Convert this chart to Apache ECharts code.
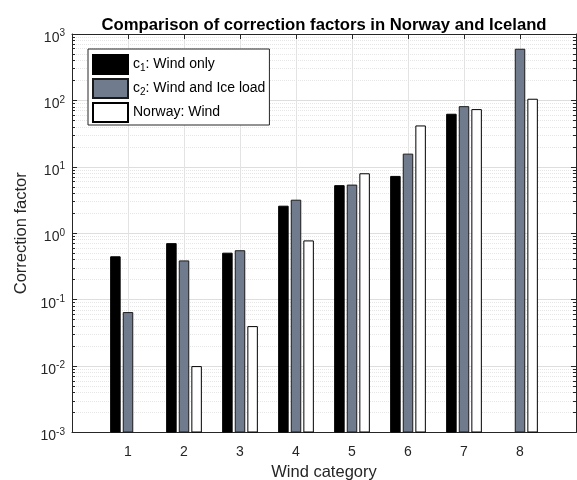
<!DOCTYPE html>
<html>
<head>
<meta charset="utf-8">
<script src="https://cdn.jsdelivr.net/npm/echarts@6/dist/echarts.min.js"></script>
<style>
  html, body { margin: 0; padding: 0; background: #fff; }
  #chart { width: 577px; height: 480px; }
</style>
</head>
<body>
<div id="chart"></div>
<script>
// Wind categories 1..8
const categories = ['1', '2', '3', '4', '5', '6', '7', '8'];
// c1: wind only
const windOnly = [0.45, 0.71, 0.51, 2.6, 5.3, 7.3, 63, null];
// c2: wind and ice load
const windIce = [0.065, 0.39, 0.555, 3.2, 5.4, 15.8, 82, 600];
// Norway: wind
const norwayWind = [null, 0.01, 0.04, 0.78, 8, 42, 74, 106];
// Decade tick values on the log axis
const yTicks = [0.001, 0.01, 0.1, 1, 10, 100, 1000];

const seriesNames = ['c1: Wind only', 'c2: Wind and Ice load', 'Norway: Wind'];

// The x axis runs 0..9 with the wind categories at 1..8
const xCats = ['0'].concat(categories, ['9']);
const pad = arr => [null].concat(arr, [null]);

const FONT = 'Liberation Sans, Arial, sans-serif';
const FRAME = '#262626';

function expLabel(v) {
  const e = Math.round(Math.log10(v));
  return '{b|10}{e|' + e + '}';
}

function legendLabel(name) {
  if (name.indexOf('c1') === 0) return '{t|c}{s|1}{t|: Wind only}';
  if (name.indexOf('c2') === 0) return '{t|c}{s|2}{t|: Wind and Ice load}';
  return '{t|' + name + '}';
}

const chart = echarts.init(document.getElementById('chart'), null, { renderer: 'canvas' });

const barBase = {
  type: 'bar',
  barWidth: 10.5,
  barGap: '20%',
  xAxisIndex: 0,
  yAxisIndex: 0
};

const innerTicks = { show: true, inside: true, length: 5, lineStyle: { color: FRAME } };

chart.setOption({
  animation: false,
  backgroundColor: '#fff',
  title: {
    text: 'Comparison of correction factors in Norway and Iceland',
    left: 319,
    top: 12,
    textAlign: 'center',
    textStyle: { fontFamily: FONT, fontSize: 16.7, fontWeight: 'bold', color: '#000' }
  },
  grid: { left: 72, right: 1, top: 34, bottom: 47.5, containLabel: false, outerBoundsMode: 'none' },
  legend: {
    orient: 'vertical',
    left: 88,
    top: 49,
    padding: [5, 4, 2, 4],
    itemWidth: 35,
    itemHeight: 19,
    itemGap: 3,
    backgroundColor: '#fff',
    borderColor: FRAME,
    borderWidth: 1,
    borderRadius: 0,
    icon: 'rect',
    data: seriesNames,
    formatter: legendLabel,
    textStyle: {
      fontFamily: FONT,
      fontSize: 14,
      color: '#000',
      rich: {
        t: { fontFamily: FONT, fontSize: 14, color: '#000', lineHeight: 19 },
        s: { fontFamily: FONT, fontSize: 10, color: '#000', padding: [7, 0, 0, 0] }
      }
    }
  },
  xAxis: [
    {
      type: 'category',
      data: xCats,
      boundaryGap: false,
      name: 'Wind category',
      nameLocation: 'middle',
      nameGap: 28,
      nameTextStyle: { fontFamily: FONT, fontSize: 16.5, color: FRAME },
      axisLine: { show: true, lineStyle: { color: FRAME, width: 1 } },
      axisTick: Object.assign({}, innerTicks, { interval: (i) => i > 0 && i < xCats.length - 1 }),
      axisLabel: {
        fontFamily: FONT, fontSize: 14, color: FRAME, margin: 13,
        interval: 0,
        formatter: (v, i) => (i > 0 && i < xCats.length - 1) ? v : ''
      },
      splitLine: {
        show: true,
        interval: (i) => i > 0 && i < xCats.length - 1,
        lineStyle: { color: '#e3e3e3', width: 1 }
      }
    },
    {
      type: 'category',
      data: xCats,
      boundaryGap: false,
      position: 'top',
      axisLine: { show: true, lineStyle: { color: FRAME, width: 1 } },
      axisTick: Object.assign({}, innerTicks, { interval: (i) => i > 0 && i < xCats.length - 1 }),
      axisLabel: { show: false },
      splitLine: { show: false }
    }
  ],
  yAxis: [
    {
      type: 'log',
      logBase: 10,
      min: yTicks[0],
      max: yTicks[yTicks.length - 1],
      startValue: yTicks[0],
      name: 'Correction factor',
      nameLocation: 'middle',
      nameGap: 39,
      nameRotate: 90,
      nameTextStyle: { fontFamily: FONT, fontSize: 16.5, color: FRAME },
      axisLine: { show: true, lineStyle: { color: FRAME, width: 1 } },
      axisTick: innerTicks,
      minorTick: { show: true, splitNumber: 9, length: 3, lineStyle: { color: FRAME } },
      minorSplitLine: { show: true, lineStyle: { color: '#e6e6e6', type: [1, 1], width: 1 } },
      axisLabel: {
        formatter: expLabel,
        margin: 7,
        rich: {
          b: { fontFamily: FONT, fontSize: 14, color: FRAME, padding: [8, 0, 0, 0] },
          e: { fontFamily: FONT, fontSize: 10, color: FRAME, padding: [0, 0, 1, 0] }
        }
      },
      splitLine: { show: true, lineStyle: { color: '#dedede', width: 1 } }
    },
    {
      type: 'log',
      logBase: 10,
      min: yTicks[0],
      max: yTicks[yTicks.length - 1],
      position: 'right',
      axisLine: { show: true, lineStyle: { color: FRAME, width: 1 } },
      axisTick: innerTicks,
      minorTick: { show: true, splitNumber: 9, length: 3, lineStyle: { color: FRAME } },
      axisLabel: { show: false },
      splitLine: { show: false }
    }
  ],
  series: [
    Object.assign({}, barBase, {
      name: seriesNames[0],
      data: pad(windOnly),
      itemStyle: { color: '#000000', borderColor: '#000000', borderWidth: 1 }
    }),
    Object.assign({}, barBase, {
      name: seriesNames[1],
      data: pad(windIce),
      itemStyle: { color: '#707c8e', borderColor: '#1a1a1a', borderWidth: 1 }
    }),
    Object.assign({}, barBase, {
      name: seriesNames[2],
      data: pad(norwayWind),
      itemStyle: { color: '#ffffff', borderColor: '#000000', borderWidth: 1 }
    })
  ]
});
</script>
</body>
</html>
